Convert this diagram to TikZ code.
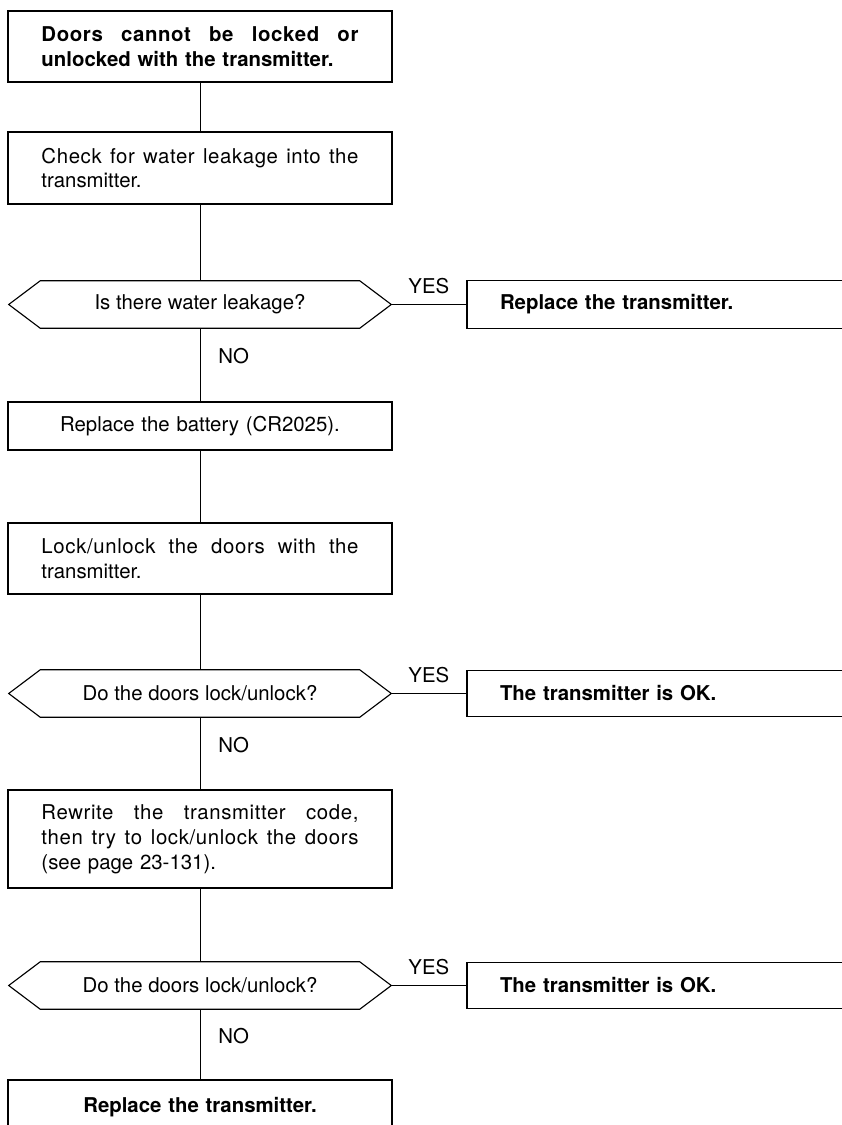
\documentclass[tikz,border=0pt]{standalone}
\usepackage{fontspec}
\setmainfont{TeX Gyre Heros}
\usetikzlibrary{positioning}

\newcommand{\chartfont}{\fontsize{14.5}{17.7}\selectfont}
\newcommand{\fullline}[1]{\makebox[79.25mm][s]{\addfontfeature{LetterSpace=3}%
  \spaceskip=.3333em plus 1fil\relax #1}}

\begin{document}
\begin{tikzpicture}[x=0.25mm, y=-0.25mm,
  stepbox/.style={draw, line width=0.8pt, minimum width=96mm, text width=79.25mm,
             inner xsep=8.375mm, inner ysep=0pt, align=left, font=\chartfont},
  endbox/.style={stepbox, text width=79.75mm, inner xsep=8.25mm, minimum width=96.25mm},
  query/.style={minimum width=95.5mm, minimum height=11.75mm, inner sep=0pt,
             align=center, font=\chartfont},
  link/.style={line width=0.7pt},
  answer/.style={font=\chartfont, inner sep=0pt}
]
\path[use as bounding box, clip] (0,0) rectangle (842,1125);
% ── Main column ───────────────────────
\node[stepbox, minimum height=17.75mm] (start) at (200,46.5)
  {\bfseries\fullline{Doors cannot be locked or}\\ unlocked with the transmitter.};
\node[stepbox, minimum height=18mm] (leak) at (200,168)
  {\fullline{Check for water leakage into the}\\ transmitter.};
\node[query] (q1) at (200,304.5) {Is there water leakage?};
\node[stepbox, minimum height=12mm, align=center] (battery) at (200,426)
  {Replace the battery (CR2025).};
\node[stepbox, minimum height=17.75mm] (try) at (200,558.5)
  {\fullline{Lock/unlock the doors with the}\\ transmitter.};
\node[query] (q2) at (200,693.5) {Do the doors lock/unlock?};
\node[stepbox, minimum height=24.5mm] (rewrite) at (200,839)
  {\fullline{Rewrite the transmitter code,}\\
   \fullline{then try to lock/unlock the doors}\\
   (see page 23-131).};
\node[query] (q3) at (200,985.5) {Do the doors lock/unlock?};
\node[stepbox, minimum height=13.5mm, align=center] (replace) at (200,1107)
  {\bfseries Replace the transmitter.};
% ── Results on the right ──────────────
\node[endbox, minimum height=12mm] (r1) at (659.5,304.5)
  {\bfseries Replace the transmitter.};
\node[endbox, minimum height=11.5mm] (r2) at (659.5,693.5)
  {\bfseries The transmitter is OK.};
\node[endbox, minimum height=11.5mm] (r3) at (659.5,985.5)
  {\bfseries The transmitter is OK.};
% ── Hexagon outlines ──────────────────
\foreach \q in {q1,q2,q3}
  \draw[line width=0.8pt] (\q.west) -- ([xshift=7.9mm]\q.north west)
    -- ([xshift=-7.9mm]\q.north east) -- (\q.east)
    -- ([xshift=-7.9mm]\q.south east) -- ([xshift=7.9mm]\q.south west) -- cycle;
% ── Connectors ────────────────────────
\draw[link] (start) -- (leak);
\draw[link] (leak) -- (q1);
\draw[link] (q1) -- node[answer, pos=0.38, right=4.5mm] (no1) {NO} (battery);
\draw[link] (battery) -- (try);
\draw[link] (try) -- (q2);
\draw[link] (q2) -- node[answer, pos=0.38, right=4.5mm] (no2) {NO} (rewrite);
\draw[link] (rewrite) -- (q3);
\draw[link] (q3) -- node[answer, pos=0.38, right=4.5mm] (no3) {NO} (replace);
\draw[link] (q1) -- node[answer, midway, above=2.6mm] (yes1) {YES} (r1);
\draw[link] (q2) -- node[answer, midway, above=2.6mm] (yes2) {YES} (r2);
\draw[link] (q3) -- node[answer, midway, above=2.6mm] (yes3) {YES} (r3);
\end{tikzpicture}
\end{document}
